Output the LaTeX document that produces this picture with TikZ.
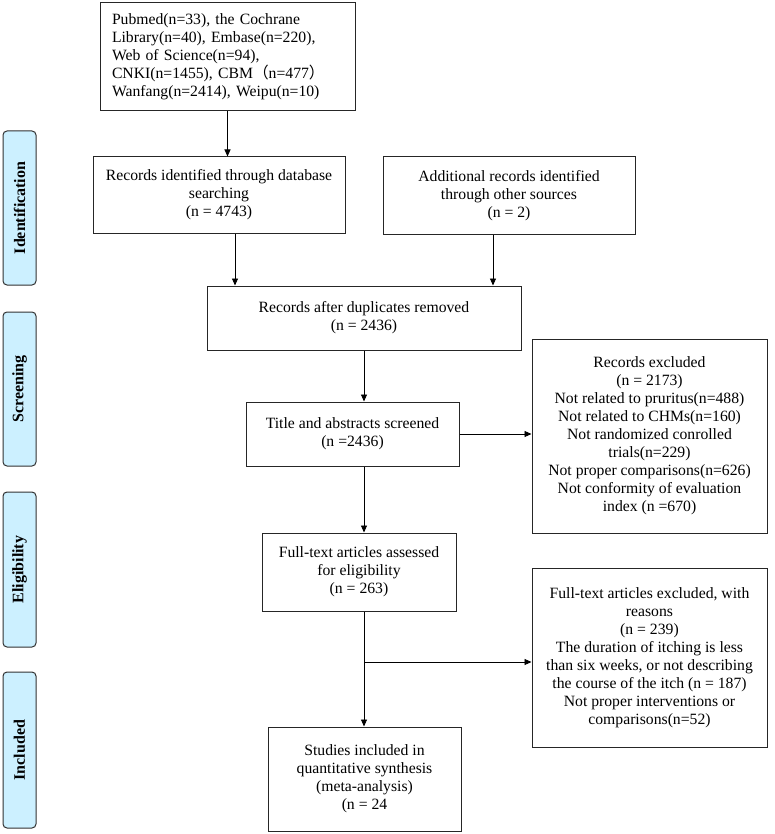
\documentclass[tikz,border=0pt]{standalone}
\usepackage{fontspec}
\setmainfont{Liberation Serif}
\newfontfamily\cjkfont{Noto Sans CJK SC}
\usetikzlibrary{arrows.meta}
\definecolor{labfill}{RGB}{204,240,255}
\definecolor{labdraw}{RGB}{50,50,50}
\tikzset{
  boxnode/.style={draw=black!85, line width=1pt, inner sep=2pt, align=center,
    font=\fontsize{15.7}{18}\selectfont},
  phase/.style={draw=labdraw, fill=labfill, line width=1pt, rounded corners=4pt,
    rotate=90, minimum height=33pt, inner sep=0pt,
    font=\fontsize{16}{18}\selectfont\bfseries},
  flow/.style={line width=0.9pt, -{Triangle[length=7pt,width=6pt]}},
  plainline/.style={line width=0.9pt}
}
\begin{document}
\begin{tikzpicture}[x=1pt,y=-1pt]
\fill[white] (0,0) rectangle (775,834);
\useasboundingbox (0,0) rectangle (775,834);

% phase labels
\node[phase, minimum width=154pt] (pid) at (19.5,208) {Identification};
\node[phase, minimum width=154pt] (pscr) at (19.5,389) {Screening};
\node[phase, minimum width=155pt] (pel) at (19.5,569.5) {Eligibility};
\node[phase, minimum width=156pt] (pinc) at (19.5,750) {Included};

% boxes
\node[boxnode, align=left, text width=231pt, inner xsep=12pt, minimum height=108pt] (top) at (227.5,57)
  {Pubmed(n=33), the Cochrane\\ Library(n=40), Embase(n=220),\\ Web of Science(n=94),\\ CNKI(n=1455), CBM{\cjkfont （}n=477{\cjkfont ）}\\ Wanfang(n=2414), Weipu(n=10)};
\node[boxnode, minimum width=252pt, minimum height=76pt] (recid) at (219,195)
  {Records identified through database\\ searching\\ (n = 4743)};
\node[boxnode, minimum width=252pt, minimum height=77pt] (addl) at (509,195.5)
  {Additional records identified\\ through other sources\\ (n = 2)};
\node[boxnode, minimum width=314pt, minimum height=64pt] (dup) at (364,318)
  {Records after duplicates removed\\ (n = 2436)};
\node[boxnode, minimum width=213pt, minimum height=64pt] (title) at (352.5,434)
  {Title and abstracts screened\\ (n =2436)};
\node[boxnode, minimum width=194pt, minimum height=78pt] (full) at (359,572)
  {Full-text articles assessed\\ for eligibility\\ (n = 263)};
\node[boxnode, minimum width=193pt, minimum height=104pt] (studies) at (364.5,779)
  {Studies included in\\ quantitative synthesis\\ (meta-analysis)\\ (n = 24};
\node[boxnode, minimum width=235pt, minimum height=194pt] (excl) at (649.5,436)
  {Records excluded\\ (n = 2173)\\ Not related to pruritus(n=488)\\ Not related to CHMs(n=160)\\ Not randomized conrolled\\ trials(n=229)\\ Not proper comparisons(n=626)\\ Not conformity of evaluation\\ index (n =670)};
\node[boxnode, minimum width=235pt, minimum height=179pt] (fullexcl) at (649.5,657.5)
  {Full-text articles excluded, with\\ reasons\\ (n = 239)\\ The duration of itching is less\\ than six weeks, or not describing\\ the course of the itch (n = 187)\\ Not proper interventions or\\ comparisons(n=52)};

% connectors
\coordinate (spine) at (364,0);
\coordinate (br) at (364,662);
\draw[flow] (top.south) -- (top.south |- recid.north);
\draw[flow] ([xshift=16pt]recid.south) -- ([xshift=16pt]recid.south |- dup.north);
\draw[flow] ([xshift=-16pt]addl.south) -- ([xshift=-16pt]addl.south |- dup.north);
\draw[flow] (dup.south) -- (dup.south |- title.north);
\draw[flow] (title.east) -- (title.east -| excl.west);
\draw[flow] (spine |- title.south) -- (spine |- full.north);
\draw[flow] (spine |- full.south) -- (spine |- studies.north);
\draw[flow] (br) -- (br -| fullexcl.west);
\end{tikzpicture}
\end{document}
